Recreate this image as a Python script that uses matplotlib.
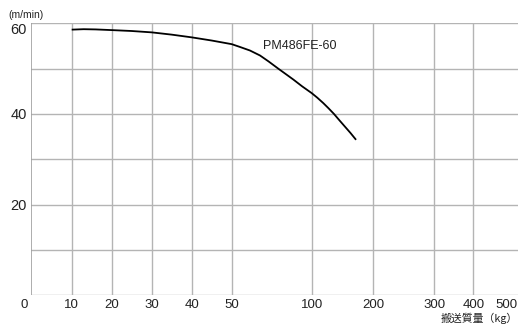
import numpy as np
import matplotlib
matplotlib.use("Agg")
import matplotlib.pyplot as plt

plt.rcParams['font.family'] = ['Liberation Sans', 'Noto Sans CJK JP', 'DejaVu Sans']

# data
mass = [10, 13, 16, 20, 25, 30, 35, 40, 45, 50, 55, 61.4, 67.7, 73, 79.1, 84, 88.5, 94, 100, 109, 118.8, 127, 136.2, 145, 154, 163, 172]
speed = [58.6, 58.7, 58.65, 58.5, 58.3, 58.0, 57.5, 56.9, 56.2, 55.4, 54.8, 54.0, 52.9, 51.6, 50.0, 48.75, 47.6, 46.1, 44.6, 43.6, 42.4, 41.3, 40.0, 38.6, 37.2, 35.8, 34.3]
series_label = "PM486FE-60"
x_ticks = [0, 10, 20, 30, 40, 50, 100, 200, 300, 400, 500]
y_ticks = [0, 10, 20, 30, 40, 50, 60]
y_labeled = [20, 40, 60]

# custom piecewise axis scale (tick value -> relative position along axis)
scale_pos = [0, 40.7, 80.7, 120.7, 160.7, 200.7, 280.7, 342.3, 403.3, 442.3, 487.0]

def fwd(v):
    return np.interp(v, x_ticks, scale_pos)

def inv(u):
    return np.interp(u, scale_pos, x_ticks)

W, H = 526, 328
fig = plt.figure(figsize=(W / 100, H / 100), dpi=100)
ax = fig.add_axes([31 / W, 32.7 / H, 487 / W, 272 / H])
ax.set_xscale('function', functions=(fwd, inv))
ax.set_xlim(0, 500)
ax.set_ylim(0, 60)

grid_c = '#b4b4b4'
for yv in y_ticks:
    ax.axhline(yv, color=grid_c, lw=1.0, zorder=1)
for xv in x_ticks[1:-1]:
    ax.axvline(xv, color=grid_c, lw=1.0, zorder=1)
ax.axvline(0, color='#a0a0a0', lw=1.2, zorder=1)

for s in ax.spines.values():
    s.set_visible(False)

ax.plot(mass, speed, color='black', lw=1.3, zorder=3, solid_capstyle='butt',
        solid_joinstyle='round')
ax.text(69.8, 55.0, series_label, fontsize=9, ha='left', va='center', color='#222222')

ax.set_xticks(x_ticks[1:])
xt = ax.set_xticklabels([str(v) for v in x_ticks[1:]], fontsize=9.5)
xt[-1].set_ha('right')
ax.set_yticks(y_labeled)
yt = ax.set_yticklabels([str(v) for v in y_labeled], fontsize=10.5)
yt[-1].set_va('top')
ax.tick_params(length=0, pad=3, colors='#222222')

fig.text(24 / W, 1 - 304.5 / H, "0", fontsize=9.5, ha='center', va='center', color='#222222')
fig.text(8 / W, 1 - 15 / H, "(m/min)", fontsize=7.5, ha='left', va='center', color='#222222')
fig.text(518 / W, 1 - 318 / H, "搬送質量（kg）", fontsize=7.8, ha='right', va='center',
         color='#222222', family=['Noto Sans CJK JP', 'DejaVu Sans'])

fig.savefig("out.png", dpi=100)
